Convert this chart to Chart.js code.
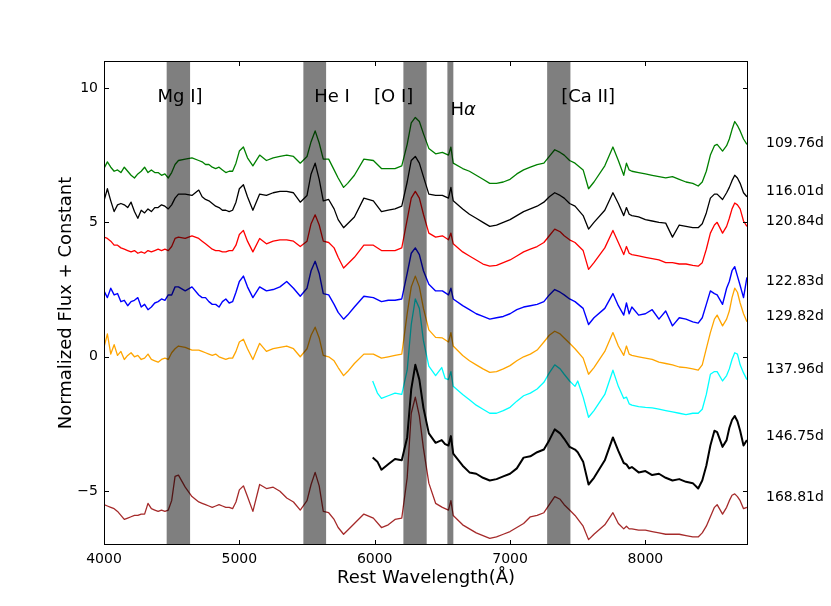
<!DOCTYPE html>
<html>
<head>
<meta charset="utf-8">
<script src="https://cdn.jsdelivr.net/npm/chart.js@4.4.1/dist/chart.umd.min.js"></script>
<style>
html,body{margin:0;padding:0;background:#fff;}
#wrap{width:831px;height:606px;position:relative;}
</style>
</head>
<body>
<div id="wrap"><canvas id="c"></canvas></div>
<script>
// Wavelength grid (Å) for full-range spectra
const waveFull = [
4000,4025,4050,4075,4100,4125,4150,4175,4200,4225,4250,4275,4300,4325,4350,4375,4400,4425,4450,4475,
4500,4525,4550,4600,4650,4700,4725,4750,4775,4800,4825,4850,4875,4900,4925,4950,4975,
5000,5030,5060,5100,5150,5200,5250,5300,5350,5400,5450,5500,
5530,5560,5590,5620,5660,5700,5730,5770,5800,5850,5920,5990,
6050,6100,6150,6200,6240,6270,6300,6330,6360,6400,6450,6500,6545,6563,6580,6650,
6700,6750,6800,6850,6900,6950,7000,7050,7100,7150,7200,7250,7290,7330,7370,7400,7440,7480,
7540,7580,7620,7700,7760,7800,7840,7860,7880,7900,7950,8000,8050,8100,8150,8200,8250,8300,8350,8390,8420,8450,
8480,8510,8530,8570,8600,8620,8640,8660,8680,8700,8725,8750];
// Wavelength grid for the two red-only spectra
const wavePartial = [
5985,6020,6050,6100,6150,6200,6240,6270,6300,6330,6360,6400,6450,6495,6520,6545,6563,6580,6650,
6700,6750,6800,6850,6900,6950,7000,7050,7100,7150,7200,7250,7290,7330,7370,7400,7440,7480,7500,
7540,7580,7620,7700,7760,7800,7840,7860,7880,7900,7950,8000,8050,8100,8150,8200,8250,8300,8350,8390,8420,8450,
8480,8510,8530,8570,8600,8620,8640,8660,8680,8700,8725,8750];

const flux10976 = [
7.0,7.25,7.05,6.9,6.95,6.85,7.05,6.9,6.75,6.65,6.8,6.9,7.05,6.85,6.95,6.85,6.85,6.75,6.8,6.65,
6.85,7.15,7.3,7.35,7.4,7.3,7.25,7.15,7.15,7.05,7.0,7.05,6.95,6.85,6.9,6.9,7.2,
7.65,7.8,7.4,7.1,7.5,7.3,7.4,7.45,7.5,7.45,7.2,7.45,
8.0,8.4,7.95,7.35,7.35,6.95,6.65,6.3,6.45,6.75,7.35,7.3,
7.0,7.0,7.0,7.1,7.9,8.7,8.9,8.75,8.3,7.75,7.55,7.6,7.5,7.8,7.2,7.0,
6.9,6.75,6.6,6.45,6.45,6.5,6.6,6.8,6.95,7.05,7.15,7.2,7.45,7.7,7.6,7.5,7.3,7.2,
6.95,6.25,6.5,7.1,7.8,7.3,6.75,7.2,6.95,6.9,6.85,6.8,6.75,6.7,6.65,6.7,6.6,6.5,6.45,6.35,6.5,6.9,
7.5,7.85,7.9,7.65,7.85,8.1,8.45,8.75,8.6,8.4,8.1,7.9];
const flux11601 = [
5.8,6.25,5.8,5.4,5.65,5.7,5.65,5.55,5.75,5.4,5.15,5.45,5.35,5.5,5.4,5.55,5.55,5.65,5.6,5.5,
5.65,5.9,6.05,6.05,6.0,6.2,5.95,5.85,5.8,5.7,5.6,5.55,5.45,5.45,5.4,5.45,5.75,
6.25,6.4,5.95,5.45,6.05,6.0,6.1,6.15,6.15,6.1,5.75,6.0,
6.8,7.2,6.6,5.8,5.85,5.5,5.1,4.8,4.95,5.2,5.9,5.8,
5.4,5.45,5.5,5.6,6.5,7.3,7.45,7.2,6.7,6.05,6.0,6.0,5.9,6.3,5.8,5.5,
5.3,5.15,5.0,4.85,4.9,5.0,5.1,5.25,5.4,5.5,5.6,5.75,5.95,6.1,6.0,5.9,5.7,5.6,
5.25,4.75,5.0,5.45,6.1,5.7,5.25,5.55,5.3,5.25,5.2,5.1,5.05,5.0,4.97,4.45,4.9,4.85,4.8,4.8,4.95,5.35,
5.9,6.05,6.05,5.85,6.1,6.3,6.55,6.75,6.65,6.45,6.1,5.95];
const flux12084 = [
4.45,4.4,4.3,4.15,4.15,4.05,4.0,3.95,3.9,3.95,3.85,3.9,3.85,3.95,3.9,3.95,4.0,3.95,4.0,3.95,
4.1,4.4,4.45,4.4,4.5,4.4,4.3,4.2,4.1,4.0,3.95,3.95,3.9,3.9,3.95,3.95,4.15,
4.55,4.7,4.3,3.9,4.4,4.2,4.3,4.35,4.35,4.3,4.1,4.3,
4.95,5.28,4.9,4.3,4.25,4.05,3.7,3.3,3.45,3.7,4.15,4.15,
3.95,3.95,3.95,4.05,5.1,5.9,6.15,5.9,5.3,4.6,4.45,4.5,4.35,4.6,4.2,3.9,
3.75,3.6,3.45,3.37,3.4,3.5,3.6,3.75,3.9,4.0,4.1,4.25,4.5,4.75,4.65,4.5,4.35,4.25,
3.95,3.25,3.5,4.05,4.7,4.25,3.8,4.1,3.85,3.8,3.75,3.7,3.65,3.6,3.5,3.5,3.45,3.45,3.4,3.37,3.5,4.0,
4.6,4.9,5.0,4.6,4.85,5.15,5.5,5.72,5.65,5.5,5.05,4.85];
const flux12283 = [
2.45,2.2,2.55,2.3,2.35,2.05,2.1,1.9,2.05,2.1,2.2,1.85,1.95,1.75,1.85,2.0,2.05,2.15,2.1,2.3,
2.3,2.6,2.6,2.45,2.6,2.3,2.2,2.2,2.05,1.95,1.95,1.85,2.05,2.15,2.0,2.05,2.4,
2.8,3.0,2.6,2.2,2.6,2.45,2.5,2.6,2.8,2.55,2.25,2.55,
3.2,3.55,3.1,2.35,2.3,1.95,1.65,1.4,1.55,1.85,2.25,2.2,
2.05,2.1,2.1,2.15,3.1,3.85,4.05,3.8,3.2,2.7,2.45,2.45,2.3,2.55,2.15,1.9,
1.75,1.6,1.5,1.4,1.45,1.5,1.6,1.75,1.85,1.9,1.95,2.05,2.3,2.5,2.4,2.3,2.15,2.05,
1.8,1.2,1.45,1.8,2.35,1.9,1.55,2.0,1.6,1.85,1.55,1.6,1.75,1.4,1.7,1.15,1.45,1.4,1.3,1.25,1.45,1.95,
2.45,2.35,2.3,1.95,2.55,2.8,3.2,3.35,3.0,2.65,2.2,2.95];
const flux12982 = [
0.35,0.85,0.1,0.45,0.05,0.2,-0.1,0.05,0.15,0.0,0.05,-0.1,-0.05,0.1,-0.1,-0.15,-0.2,-0.1,-0.05,-0.1,
0.15,0.3,0.4,0.35,0.25,0.25,0.2,0.15,0.1,0.05,0.1,0.0,-0.05,-0.1,-0.05,-0.05,0.2,
0.55,0.65,0.3,-0.1,0.5,0.2,0.3,0.35,0.4,0.3,0.0,0.3,
0.8,1.1,0.7,0.05,0.0,-0.15,-0.4,-0.7,-0.55,-0.25,0.1,0.1,
-0.05,0.0,0.05,0.1,1.6,2.6,3.0,2.6,1.8,1.0,0.72,0.7,0.55,0.9,0.4,0.05,
-0.15,-0.3,-0.45,-0.58,-0.55,-0.45,-0.33,-0.15,0.0,0.1,0.25,0.55,0.8,0.95,0.85,0.7,0.5,0.3,
-0.05,-0.65,-0.4,0.2,0.9,0.4,0.05,0.4,0.1,0.05,0.0,-0.05,-0.1,-0.2,-0.25,-0.3,-0.38,-0.4,-0.45,-0.5,-0.3,0.3,
0.9,1.4,1.55,1.15,1.4,1.7,2.2,2.55,2.4,2.0,1.6,1.3];
const flux13796 = [
-0.9,-1.35,-1.55,-1.45,-1.35,-1.4,-0.5,1.2,2.15,1.8,0.6,-0.35,-0.7,-0.4,-0.8,-0.85,-0.55,-1.1,-1.4,
-1.6,-1.8,-1.95,-2.1,-2.1,-2.0,-1.88,-1.65,-1.45,-1.35,-1.2,-0.95,-0.6,-0.3,-0.45,-0.65,-0.9,-1.1,-0.9,
-1.5,-2.25,-2.0,-1.4,-0.5,-1.1,-1.55,-1.5,-1.75,-1.8,-1.85,-1.88,-1.9,-1.95,-2.0,-2.05,-2.1,-2.15,-2.1,-2.1,-1.95,-1.4,
-0.65,-0.55,-0.55,-0.9,-0.7,-0.45,-0.1,0.15,0.1,-0.3,-0.6,-0.85];
const flux14675 = [
-3.75,-3.9,-4.2,-4.0,-3.8,-3.85,-3.0,-1.2,-0.3,-0.85,-1.9,-2.85,-3.2,-3.1,-3.25,-3.3,-2.95,-3.6,-4.05,
-4.3,-4.35,-4.5,-4.6,-4.55,-4.45,-4.35,-4.15,-3.75,-3.7,-3.55,-3.45,-3.1,-2.7,-2.85,-3.05,-3.35,-3.45,-3.55,
-3.9,-4.75,-4.5,-3.85,-3.0,-3.5,-3.95,-4.0,-4.15,-4.1,-4.3,-4.25,-4.4,-4.35,-4.5,-4.6,-4.55,-4.65,-4.7,-4.9,-4.6,-4.05,
-3.3,-2.75,-2.8,-3.35,-3.1,-2.65,-2.35,-2.2,-2.4,-2.75,-3.3,-3.1];
const flux16881 = [
-5.5,-5.55,-5.6,-5.65,-5.75,-5.9,-6.05,-6.0,-5.95,-5.9,-5.9,-5.85,-5.85,-5.45,-5.65,-5.7,-5.75,-5.7,-5.75,-5.7,
-5.35,-4.45,-4.4,-4.85,-5.2,-5.4,-5.45,-5.5,-5.55,-5.6,-5.55,-5.5,-5.55,-5.6,-5.6,-5.65,-5.4,
-4.95,-4.8,-5.2,-5.75,-4.75,-4.9,-4.85,-5.0,-5.25,-5.4,-5.7,-5.35,
-4.75,-4.3,-4.8,-5.75,-5.8,-6.05,-6.35,-6.6,-6.45,-6.2,-5.85,-6.0,
-6.35,-6.25,-6.05,-6.0,-4.5,-2.1,-1.5,-2.2,-3.4,-4.7,-5.45,-5.6,-5.7,-5.35,-5.9,-6.25,
-6.4,-6.55,-6.65,-6.75,-6.7,-6.6,-6.5,-6.35,-6.2,-5.95,-5.9,-5.8,-5.5,-5.2,-5.3,-5.5,-5.7,-5.9,
-6.3,-6.8,-6.6,-6.25,-5.8,-6.2,-6.4,-6.3,-6.4,-6.4,-6.45,-6.45,-6.5,-6.55,-6.6,-6.6,-6.6,-6.65,-6.7,-6.7,-6.55,-6.3,
-5.95,-5.6,-5.5,-5.85,-5.6,-5.35,-5.15,-5.1,-5.2,-5.35,-5.65,-5.6];

const epochLabels = ['109.76d','116.01d','120.84d','122.83d','129.82d','137.96d','146.75d','168.81d'];
const epochLabelY = [7.94,6.15,5.04,2.81,1.52,-0.46,-2.95,-5.21];

const lineNames = ['Mg I]','He I','[O I]','H\u03B1','[Ca II]'];
const lineLabelX = [4562,5685,6140,6653,7577];
const lineLabelY = [9.65,9.65,9.65,9.15,9.65];
const bandStart = [4463,5473,6212,6537,7274];
const bandEnd   = [4636,5641,6384,6581,7446];

const xTicks = [4000,5000,6000,7000,8000];
const yTicks = [-5,0,5,10];

const pts = (w,f) => w.map((v,i)=>({x:v,y:f[i]}));

const seriesDefs = [
  {data:pts(waveFull,flux10976), color:'rgb(0,128,0)', w:1.3},
  {data:pts(waveFull,flux11601), color:'rgb(0,0,0)', w:1.3},
  {data:pts(waveFull,flux12084), color:'rgb(255,0,0)', w:1.3},
  {data:pts(waveFull,flux12283), color:'rgb(0,0,255)', w:1.4},
  {data:pts(waveFull,flux12982), color:'rgb(255,165,0)', w:1.3},
  {data:pts(wavePartial,flux13796), color:'rgb(0,255,255)', w:1.3},
  {data:pts(wavePartial,flux14675), color:'rgb(0,0,0)', w:2.0},
  {data:pts(waveFull,flux16881), color:'rgb(165,42,42)', w:1.3}
];

const FONT = "'DejaVu Sans', 'Liberation Sans', sans-serif";

const decor = {
  id:'decor',
  afterDatasetsDraw(chart){
    const {ctx, chartArea:a, scales:{x,y}} = chart;
    ctx.save();
    ctx.beginPath(); ctx.rect(a.left,a.top,a.right-a.left,a.bottom-a.top); ctx.clip();
    ctx.fillStyle='rgba(0,0,0,0.5)';
    bandStart.forEach((s,i)=>{
      const x0=x.getPixelForValue(s), x1=x.getPixelForValue(bandEnd[i]);
      ctx.fillRect(x0,a.top,x1-x0,a.bottom-a.top);
    });
    ctx.restore();

    ctx.save();
    ctx.strokeStyle='#000'; ctx.lineWidth=1;
    ctx.strokeRect(Math.round(a.left)+0.5,Math.round(a.top)+0.5,Math.round(a.right-a.left)-1,Math.round(a.bottom-a.top)-1);
    const tl=5;
    ctx.beginPath();
    xTicks.forEach(v=>{
      const px=Math.round(x.getPixelForValue(v))+0.5;
      ctx.moveTo(px,a.bottom); ctx.lineTo(px,a.bottom-tl);
      ctx.moveTo(px,a.top); ctx.lineTo(px,a.top+tl);
    });
    yTicks.forEach(v=>{
      const py=Math.round(y.getPixelForValue(v))+0.5;
      ctx.moveTo(a.left,py); ctx.lineTo(a.left+tl,py);
      ctx.moveTo(a.right,py); ctx.lineTo(a.right-tl,py);
    });
    ctx.stroke();

    ctx.fillStyle='#000';
    ctx.textBaseline='middle';
    lineNames.forEach((t,i)=>{
      const cx=x.getPixelForValue(lineLabelX[i]), cy=y.getPixelForValue(lineLabelY[i]);
      if(t==='H\u03B1'){
        ctx.font='18px '+FONT;
        const wH=ctx.measureText('H').width;
        ctx.font='italic 18px '+FONT;
        const wA=ctx.measureText('\u03B1').width;
        const x0=cx-(wH+wA)/2;
        ctx.textAlign='left';
        ctx.font='18px '+FONT; ctx.fillText('H',x0,cy);
        ctx.font='italic 18px '+FONT; ctx.fillText('\u03B1',x0+wH,cy);
      } else {
        ctx.font='18px '+FONT; ctx.textAlign='center';
        ctx.fillText(t,cx,cy);
      }
    });
    ctx.font='14px '+FONT;
    ctx.textAlign='left';
    epochLabels.forEach((t,i)=>{
      ctx.fillText(t, a.right+18, y.getPixelForValue(epochLabelY[i]));
    });
    ctx.font='18px '+FONT;
    ctx.textAlign='center';
    ctx.fillText('Rest Wavelength(\u00C5)', (a.left+a.right)/2, 578);
    ctx.translate(66,(a.top+a.bottom)/2);
    ctx.rotate(-Math.PI/2);
    ctx.fillText('Normalized Flux + Constant',0,0);
    ctx.restore();
  }
};

new Chart(document.getElementById('c'),{
  type:'line',
  data:{datasets:seriesDefs.map(s=>({data:s.data,borderColor:s.color,borderWidth:s.w,pointRadius:0,tension:0,fill:false,borderJoinStyle:'round'}))},
  options:{
    responsive:true, maintainAspectRatio:false, animation:false,
    layout:{padding:{left:0,top:61,right:83,bottom:0}},
    plugins:{legend:{display:false},tooltip:{enabled:false}},
    scales:{
      x:{type:'linear',min:4000,max:8758,
        grid:{display:false,drawTicks:false},border:{display:false},
        afterBuildTicks(s){s.ticks=xTicks.map(v=>({value:v}));},
        afterFit(s){s.height=61;},
        ticks:{color:'#000',font:{family:FONT,size:14},padding:6,maxRotation:0,callback:v=>String(v)}
      },
      y:{type:'linear',min:-7,max:11,
        grid:{display:false,drawTicks:false},border:{display:false},
        afterBuildTicks(s){s.ticks=yTicks.map(v=>({value:v}));},
        afterFit(s){s.width=104;},
        ticks:{color:'#000',font:{family:FONT,size:14},padding:6,callback:v=>v<0?'\u2212'+Math.abs(v):String(v)}
      }
    }
  },
  plugins:[decor]
});
</script>
</body>
</html>
